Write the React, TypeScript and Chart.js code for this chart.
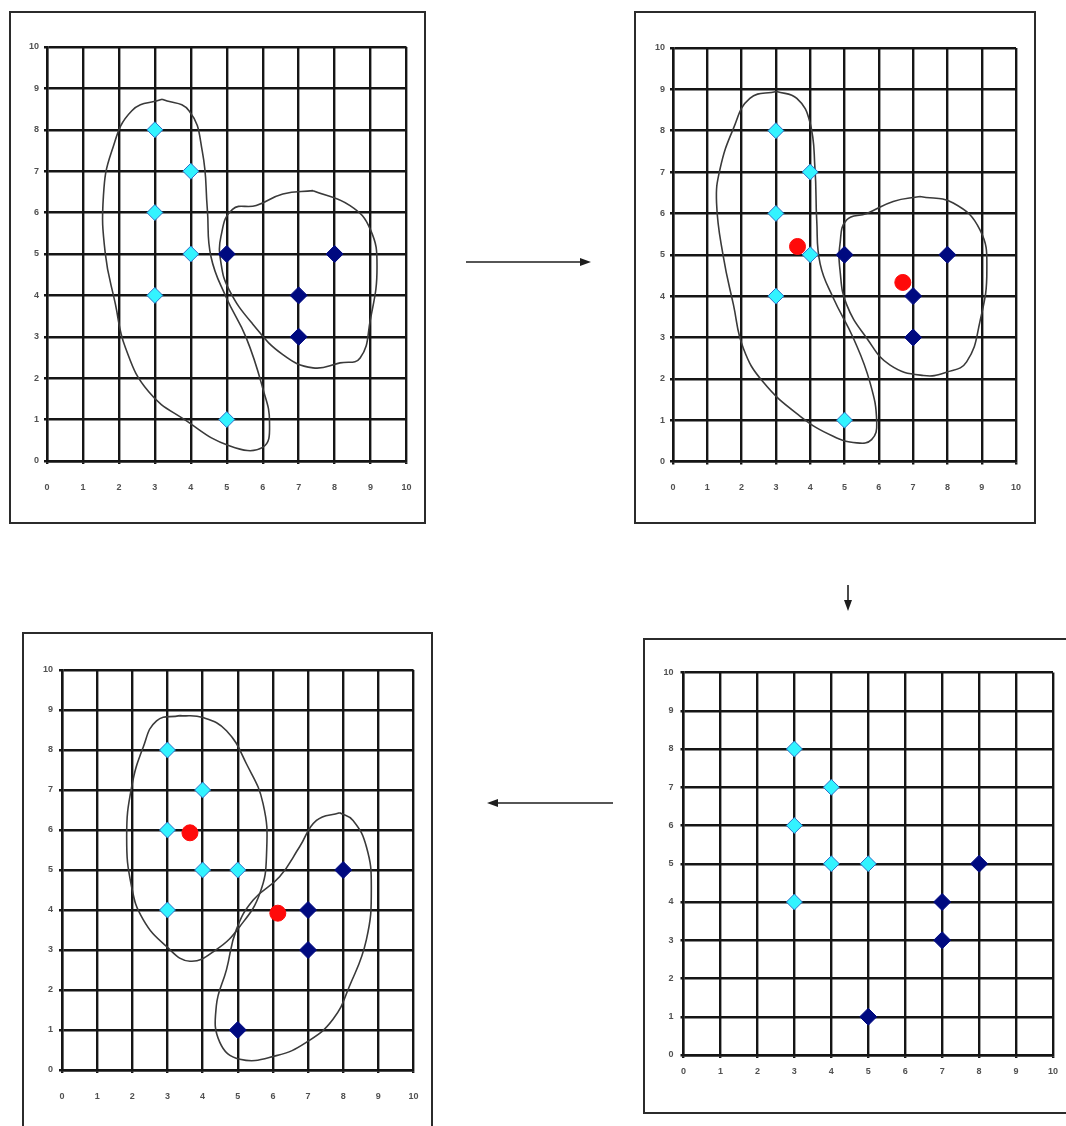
import React, { useEffect, useRef } from "react";
import { Chart, registerables } from "chart.js";

Chart.register(...registerables);

type P = { x: number; y: number };

// Axis ticks shared by all four panels
const axisTicks = [0, 1, 2, 3, 4, 5, 6, 7, 8, 9, 10];

// Step 1: initial assignment
const step1Cyan: P[] = [
  { x: 3, y: 8 }, { x: 4, y: 7 }, { x: 3, y: 6 }, { x: 4, y: 5 }, { x: 3, y: 4 }, { x: 5, y: 1 },
];
const step1Navy: P[] = [
  { x: 5, y: 5 }, { x: 7, y: 4 }, { x: 7, y: 3 }, { x: 8, y: 5 },
];

// Step 2: centroids added
const step2Cyan: P[] = step1Cyan;
const step2Navy: P[] = step1Navy;
const step2Centroids: P[] = [{ x: 3.63, y: 5.2 }, { x: 6.7, y: 4.33 }];

// Step 3 (bottom right): reassigned points
const step3Cyan: P[] = [
  { x: 3, y: 8 }, { x: 4, y: 7 }, { x: 3, y: 6 }, { x: 4, y: 5 }, { x: 5, y: 5 }, { x: 3, y: 4 },
];
const step3Navy: P[] = [
  { x: 8, y: 5 }, { x: 7, y: 4 }, { x: 7, y: 3 }, { x: 5, y: 1 },
];

// Step 4 (bottom left): new centroids
const step4Cyan: P[] = step3Cyan;
const step4Navy: P[] = step3Navy;
const step4Centroids: P[] = [{ x: 3.64, y: 5.93 }, { x: 6.14, y: 3.92 }];

// Hand-drawn cluster outlines (data coordinates)
const step1OutlineA: number[][] = [
  [3.2, 8.74], [2.36, 8.46], [1.8, 7.48], [1.57, 6.41], [1.62, 5.02], [1.9, 3.8], [2.18, 2.74],
  [2.83, 1.67], [3.86, 0.98], [5.07, 0.37], [6.0, 0.33], [6.19, 0.94], [6.0, 1.76], [5.54, 2.98],
  [4.98, 3.96], [4.56, 4.94], [4.46, 6.08], [4.32, 7.48], [3.95, 8.46],
];
const step1OutlineB: number[][] = [
  [7.4, 6.53], [8.43, 6.17], [8.99, 5.6], [9.18, 4.7], [8.99, 3.39], [8.71, 2.49], [8.15, 2.37],
  [7.4, 2.25], [6.56, 2.57], [5.72, 3.31], [5.07, 4.13], [4.84, 4.78], [4.84, 5.43], [5.16, 6.08],
  [5.82, 6.17], [6.56, 6.45],
];
const step2OutlineA: number[][] = [
  [3.02, 8.95], [2.24, 8.78], [1.76, 8.05], [1.37, 7.07], [1.27, 6.25], [1.47, 4.94], [1.76, 3.8],
  [2.05, 2.74], [2.63, 1.92], [3.7, 1.1], [4.67, 0.61], [5.36, 0.45], [5.79, 0.53], [5.94, 0.94],
  [5.74, 1.92], [5.26, 2.98], [4.67, 3.96], [4.29, 4.78], [4.19, 5.84], [4.14, 7.07], [3.99, 8.21],
  [3.61, 8.78],
];
const step2OutlineB: number[][] = [
  [7.2, 6.41], [8.17, 6.25], [8.95, 5.6], [9.15, 4.62], [8.95, 3.39], [8.56, 2.41], [7.98, 2.16],
  [7.3, 2.08], [6.33, 2.33], [5.65, 2.98], [5.06, 3.8], [4.87, 4.62], [4.87, 5.27], [5.06, 5.84],
  [5.65, 6.0], [6.42, 6.29],
];
const step4OutlineA: number[][] = [
  [3.35, 8.86], [2.69, 8.73], [2.31, 8.07], [1.98, 7.07], [1.84, 5.83], [1.98, 4.58], [2.31, 3.76],
  [2.97, 3.09], [3.64, 2.72], [4.39, 3.01], [5.06, 3.59], [5.63, 4.42], [5.82, 5.42], [5.72, 6.66],
  [5.25, 7.65], [4.68, 8.48], [4.01, 8.81],
];
const step4OutlineB: number[][] = [
  [7.9, 6.43], [7.24, 6.24], [6.76, 5.58], [6.19, 4.83], [5.44, 4.25], [4.96, 3.51], [4.68, 2.51],
  [4.39, 1.6], [4.49, 0.69], [5.06, 0.27], [6.1, 0.36], [6.95, 0.69], [7.71, 1.27], [8.18, 2.1],
  [8.66, 3.26], [8.8, 4.58], [8.66, 5.58], [8.28, 6.24],
];

type Box = { x: number; y: number; w: number; h: number };
type Area = { l: number; t: number; r: number; b: number };

type PanelProps = {
  frame: Box;
  plot: Area;
  cyan: P[];
  navy: P[];
  centroids?: P[];
  outlines?: number[][][];
  xLabelPad: number;
  yLabelPad: number;
};

function Panel({ frame, plot, cyan, navy, centroids, outlines, xLabelPad, yLabelPad }: PanelProps) {
  const ref = useRef<HTMLCanvasElement | null>(null);
  const bw = 2;
  const cw = frame.w - 2 * bw;
  const ch = frame.h - 2 * bw;

  useEffect(() => {
    if (!ref.current) return;
    const innerL = frame.x + bw;
    const innerT = frame.y + bw;
    const yAxisW = plot.l - innerL;
    const padTop = plot.t - innerT;
    const padRight = innerL + cw - plot.r;
    const xAxisH = innerT + ch - plot.b;

    const datasets: any[] = [
      {
        label: "c1",
        data: cyan,
        pointStyle: "rectRot",
        pointRadius: 8,
        backgroundColor: "#33f3ff",
        borderColor: "#2a6fc9",
        borderWidth: 1,
        showLine: false,
        order: 0,
      },
      {
        label: "c2",
        data: navy,
        pointStyle: "rectRot",
        pointRadius: 8.5,
        backgroundColor: "#000a80",
        borderColor: "#000a80",
        borderWidth: 1,
        showLine: false,
        order: 0,
      },
    ];
    if (centroids) {
      datasets.push({
        label: "centroids",
        data: centroids,
        pointStyle: "circle",
        pointRadius: 8,
        backgroundColor: "#ff0a0a",
        borderColor: "#ff0a0a",
        borderWidth: 1,
        showLine: false,
        order: 0,
      });
    }
    (outlines || []).forEach((o, i) => {
      const pts = o.map(([x, y]) => ({ x, y }));
      pts.push({ x: o[0][0], y: o[0][1] });
      datasets.push({
        label: "outline" + i,
        data: pts,
        showLine: true,
        pointRadius: 0,
        borderColor: "#3a3a3a",
        borderWidth: 1.6,
        tension: 0.45,
        fill: false,
        order: 1,
      });
    });

    const tickFont = { family: "Arial, 'Liberation Sans', sans-serif", size: 9, weight: "bold" as const };
    const gridCfg = { color: "#151515", lineWidth: 2.4, tickLength: 3, tickColor: "#151515", drawTicks: true };

    const chart = new Chart(ref.current, {
      type: "scatter",
      data: { datasets },
      options: {
        animation: false,
        responsive: false,
        maintainAspectRatio: false,
        devicePixelRatio: 1,
        events: [],
        layout: { padding: { left: 0, top: padTop, right: padRight, bottom: 0 } },
        plugins: { legend: { display: false }, tooltip: { enabled: false } },
        scales: {
          x: {
            type: "linear",
            min: 0,
            max: 10,
            afterBuildTicks: (s: any) => {
              s.ticks = axisTicks.map((v) => ({ value: v }));
            },
            afterFit: (s: any) => {
              s.height = xAxisH;
              s.paddingLeft = 0;
              s.paddingRight = 0;
            },
            ticks: { font: tickFont, color: "#505050", padding: xLabelPad, maxRotation: 0, autoSkip: false },
            grid: gridCfg,
            border: { color: "#151515", width: 2.4 },
          },
          y: {
            type: "linear",
            min: 0,
            max: 10,
            afterBuildTicks: (s: any) => {
              s.ticks = axisTicks.map((v) => ({ value: v }));
            },
            afterFit: (s: any) => {
              s.width = yAxisW;
              s.paddingTop = 0;
              s.paddingBottom = 0;
            },
            ticks: { font: tickFont, color: "#505050", padding: yLabelPad, autoSkip: false },
            grid: gridCfg,
            border: { color: "#151515", width: 2.4 },
          },
        },
      } as any,
    });
    return () => chart.destroy();
  }, []);

  return (
    <div
      style={{
        position: "absolute",
        left: frame.x,
        top: frame.y,
        width: frame.w,
        height: frame.h,
        border: `${bw}px solid #2b2b2b`,
        boxSizing: "border-box",
        background: "#fff",
      }}
    >
      <canvas
        ref={ref}
        width={cw}
        height={ch}
        style={{ position: "absolute", left: 0, top: 0, width: cw, height: ch }}
      />
    </div>
  );
}

function Arrows() {
  const c = "#1e1e1e";
  return (
    <svg
      width={1066}
      height={1126}
      style={{ position: "absolute", left: 0, top: 0, pointerEvents: "none" }}
    >
      <line x1={466} y1={262} x2={582} y2={262} stroke={c} strokeWidth={1.6} />
      <polygon points="591,262 580,258 580,266" fill={c} />
      <line x1={848} y1={585} x2={848} y2={602} stroke={c} strokeWidth={1.6} />
      <polygon points="848,611 844,600 852,600" fill={c} />
      <line x1={613} y1={803} x2={496} y2={803} stroke={c} strokeWidth={1.6} />
      <polygon points="487,803 498,799 498,807" fill={c} />
    </svg>
  );
}

export default function App() {
  return (
    <div
      style={{
        position: "absolute",
        left: 0,
        top: 0,
        width: 1066,
        height: 1126,
        overflow: "hidden",
        background: "#fff",
      }}
    >
      <Panel
        frame={{ x: 9, y: 11, w: 417, h: 513 }}
        plot={{ l: 47, t: 47, r: 406.5, b: 461 }}
        cyan={step1Cyan}
        navy={step1Navy}
        outlines={[step1OutlineA, step1OutlineB]}
        xLabelPad={18}
        yLabelPad={5}
      />
      <Panel
        frame={{ x: 634, y: 11, w: 402, h: 513 }}
        plot={{ l: 673, t: 48, r: 1016, b: 461.5 }}
        cyan={step2Cyan}
        navy={step2Navy}
        centroids={step2Centroids}
        outlines={[step2OutlineA, step2OutlineB]}
        xLabelPad={18}
        yLabelPad={5}
      />
      <Panel
        frame={{ x: 22, y: 632, w: 411, h: 520 }}
        plot={{ l: 62, t: 670, r: 413.5, b: 1070 }}
        cyan={step4Cyan}
        navy={step4Navy}
        centroids={step4Centroids}
        outlines={[step4OutlineA, step4OutlineB]}
        xLabelPad={18}
        yLabelPad={6}
      />
      <Panel
        frame={{ x: 643, y: 638, w: 440, h: 476 }}
        plot={{ l: 683.5, t: 672.5, r: 1053, b: 1055 }}
        cyan={step3Cyan}
        navy={step3Navy}
        xLabelPad={8}
        yLabelPad={7}
      />
      <Arrows />
    </div>
  );
}
